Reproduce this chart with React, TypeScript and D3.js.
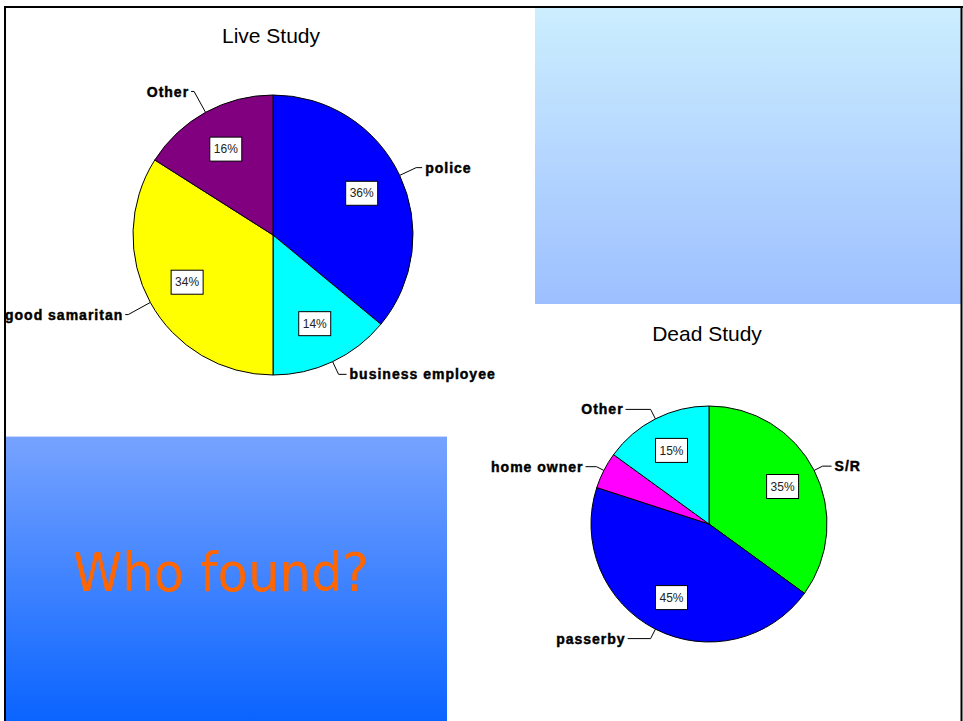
import React from "react";
import * as d3 from "d3";

const liveCategories = ["police", "business employee", "good samaritan", "Other"];
const liveValues = [36, 14, 34, 16];
const liveColors = ["#0000FF", "#00FFFF", "#FFFF00", "#800080"];
const liveShowPct = [true, true, true, true];

const deadCategories = ["S/R", "passerby", "home owner", "Other"];
const deadValues = [35, 45, 5, 15];
const deadColors = ["#00FF00", "#0000FF", "#FF00FF", "#00FFFF"];
const deadShowPct = [true, true, false, true];

const W = 963;
const H = 721;

type PieProps = {
  cx: number;
  cy: number;
  r: number;
  title: string;
  titleY: number;
  titleX: number;
  categories: string[];
  values: number[];
  colors: string[];
  showPct: boolean[];
  elbow: number[];
  tail: number[];
};

function Pie({ cx, cy, r, title, titleX, titleY, categories, values, colors, showPct, elbow, tail }: PieProps) {
  const pie = d3.pie<number>().sort(null).value((d) => d)(values);
  const arc = d3.arc<d3.PieArcDatum<number>>().innerRadius(0).outerRadius(r);
  const total = d3.sum(values);
  return (
    <g>
      <text x={titleX} y={titleY} textAnchor="middle" fontFamily="Liberation Sans, Arial, sans-serif" fontSize={21} fill="#000">
        {title}
      </text>
      <g transform={`translate(${cx},${cy})`}>
        {pie.map((p, i) => (
          <path key={i} d={arc(p) || ""} fill={colors[i]} stroke="#000" strokeWidth={1} />
        ))}
        {pie.map((p, i) => {
          const mid = (p.startAngle + p.endAngle) / 2;
          const sx = Math.sin(mid), sy = -Math.cos(mid);
          const ex = sx * r, ey = sy * r;
          const bx = sx * r * elbow[i], by = sy * r * elbow[i];
          const right = sx >= 0;
          const hx = bx + (right ? tail[i] : -tail[i]);
          return (
            <g key={"l" + i}>
              <polyline points={`${ex},${ey} ${bx},${by} ${hx},${by}`} fill="none" stroke="#000" strokeWidth={1} />
              <text
                x={hx + (right ? 3 : -2)}
                y={by}
                dy="0.36em"
                textAnchor={right ? "start" : "end"}
                fontFamily="Liberation Sans, Arial, sans-serif"
                fontWeight="bold"
                fontSize={14}
                letterSpacing={1}
                fill="#000"
                stroke="#000"
                strokeWidth={0.45}
              >
                {categories[i]}
              </text>
            </g>
          );
        })}
        {pie.map((p, i) => {
          if (!showPct[i]) return null;
          const mid = (p.startAngle + p.endAngle) / 2;
          const lx = Math.sin(mid) * r * 0.7;
          const ly = -Math.cos(mid) * r * 0.7;
          return (
            <g key={"p" + i} transform={`translate(${lx},${ly})`}>
              <rect x={-16} y={-12} width={32} height={24} fill="#fff" stroke="#000" strokeWidth={1} />
              <text textAnchor="middle" dy="0.35em" fontFamily="Liberation Sans, Arial, sans-serif" fontSize={12} fill="#222">
                {Math.round((values[i] / total) * 100)}%
              </text>
            </g>
          );
        })}
      </g>
    </g>
  );
}

export default function App() {
  return (
    <svg width={W} height={H} style={{ position: "absolute", left: 0, top: 0, background: "#fff" }}>
      <defs>
        <linearGradient id="gTop" x1="0" y1="0" x2="0" y2="1">
          <stop offset="0" stopColor="#CCEEFE" />
          <stop offset="1" stopColor="#9DBFFF" />
        </linearGradient>
        <linearGradient id="gBot" x1="0" y1="0" x2="0" y2="1">
          <stop offset="0" stopColor="#77A3FF" />
          <stop offset="1" stopColor="#0A64FF" />
        </linearGradient>
      </defs>
      <rect x={0} y={0} width={W} height={H} fill="#fff" />
      <rect x={535} y={8} width={426} height={296} fill="url(#gTop)" />
      <rect x={6} y={436} width={441} height={285} fill="url(#gBot)" />
      <line x1={6} y1={436.5} x2={447} y2={436.5} stroke="#C8D8FF" strokeWidth={1} />
      <text
        x={221}
        y={591}
        textAnchor="middle"
        fontFamily="'Comic Sans MS', 'DejaVu Sans', sans-serif"
        fontSize={54}
        fill="#FF6600"
        textLength={296}
        lengthAdjust="spacingAndGlyphs"
      >
        Who found?
      </text>
      <Pie
        cx={273}
        cy={235}
        r={140}
        title="Live Study"
        titleX={271}
        titleY={43}
        categories={liveCategories}
        values={liveValues}
        colors={liveColors}
        showPct={liveShowPct}
        elbow={[1.13, 1.1, 1.18, 1.17]}
        tail={[6, 8, 3, 3]}
      />
      <Pie
        cx={709}
        cy={524}
        r={118}
        title="Dead Study"
        titleX={707}
        titleY={341}
        categories={deadCategories}
        values={deadValues}
        colors={deadColors}
        showPct={deadShowPct}
        elbow={[1.08, 1.09, 1.07, 1.09]}
        tail={[9, 23, 11, 25]}
      />
      <line x1={4} y1={7} x2={963} y2={7} stroke="#000" strokeWidth={2} />
      <line x1={5} y1={6} x2={5} y2={H} stroke="#000" strokeWidth={2} />
      <line x1={961.5} y1={6} x2={961.5} y2={H} stroke="#000" strokeWidth={2} />
    </svg>
  );
}
